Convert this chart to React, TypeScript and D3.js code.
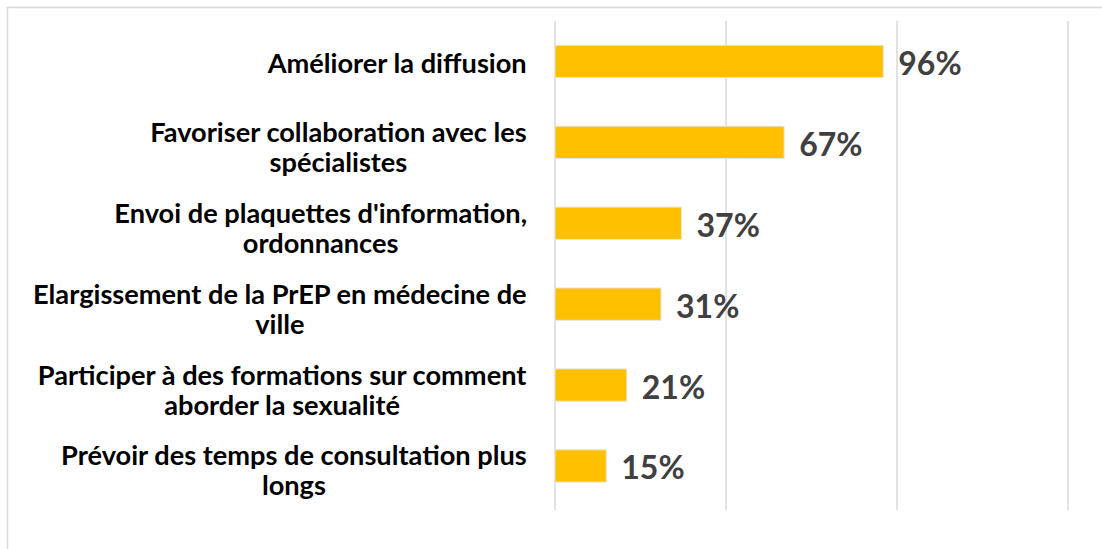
import React from "react";
import * as d3 from "d3";

const categories: string[][] = [
  ["Améliorer la diffusion"],
  ["Favoriser collaboration avec les", "spécialistes"],
  ["Envoi de plaquettes d'information,", "ordonnances"],
  ["Elargissement de la PrEP en médecine de", "ville"],
  ["Participer à des formations sur comment", "aborder la sexualité"],
  ["Prévoir des temps de consultation plus", "longs"],
];
const values: number[] = [96, 67, 37, 31, 21, 15];
const valueLabels: string[] = ["96%", "67%", "37%", "31%", "21%", "15%"];
const gridTicks: number[] = [0, 50, 100, 150];

const W = 1102;
const H = 549;
const FONT = "Lato, 'Open Sans', sans-serif";
const CAT_SIZE = 27.2;

let ctx: CanvasRenderingContext2D | null = null;
function measure(s: string): number {
  if (!ctx && typeof document !== "undefined") {
    ctx = document.createElement("canvas").getContext("2d");
  }
  if (!ctx) return s.length * CAT_SIZE * 0.5;
  ctx.font = `bold ${CAT_SIZE}px Lato, 'Open Sans', sans-serif`;
  return ctx.measureText(s).width;
}

export default function App() {
  const keys = categories.map((c, i) => String(i));
  const x = d3.scaleLinear().domain([0, 150]).range([555, 1068]);
  const y = d3
    .scaleBand<string>()
    .domain(keys)
    .range([21, 506.4])
    .paddingInner(0.6)
    .paddingOuter(0.3);
  const bw = y.bandwidth();
  const rightEdge = 527;
  return (
    <div style={{ position: "absolute", left: 0, top: 0 }}>
      <svg width={W} height={H} style={{ display: "block" }}>
        <rect x={0} y={0} width={W} height={H} fill="#ffffff" />
        <rect
          x={7.5}
          y={7.5}
          width={W + 20}
          height={H + 20}
          fill="none"
          stroke="#d9d9d9"
          strokeWidth={1.5}
        />
        {gridTicks.map((t) => (
          <line
            key={t}
            x1={x(t)}
            x2={x(t)}
            y1={21}
            y2={510}
            stroke="#d9d9d9"
            strokeWidth={1.5}
          />
        ))}
        {values.map((v, i) => {
          const y0 = y(String(i))!;
          return (
            <rect
              key={i}
              x={x(0)}
              y={y0}
              width={x(v) - x(0)}
              height={bw}
              fill="#FFC000"
              stroke="#e6e6e6"
              strokeWidth={1}
            />
          );
        })}
        {values.map((v, i) => {
          const cy = y(String(i))! + bw / 2;
          return (
            <text
              key={i}
              x={x(v) + 15}
              y={cy + 1}
              dominantBaseline="central"
              fontFamily={FONT}
              fontWeight={700}
              fontSize={32}
              fill="#404040"
            >
              {valueLabels[i]}
            </text>
          );
        })}
        {categories.map((lines, i) => {
          const cy = y(String(i))! + bw / 2;
          const n = lines.length;
          const lh = 30;
          const off = n > 1 ? 4 : 1;
          const maxW = Math.max(...lines.map(measure));
          const cx = rightEdge - maxW / 2;
          return (
            <text
              key={i}
              textAnchor="middle"
              fontFamily={FONT}
              fontWeight={700}
              fontSize={CAT_SIZE}
              fill="#000000"
            >
              {lines.map((l, j) => (
                <tspan
                  key={j}
                  x={cx}
                  y={cy + off + (j - (n - 1) / 2) * lh}
                  dominantBaseline="central"
                >
                  {l}
                </tspan>
              ))}
            </text>
          );
        })}
      </svg>
    </div>
  );
}
